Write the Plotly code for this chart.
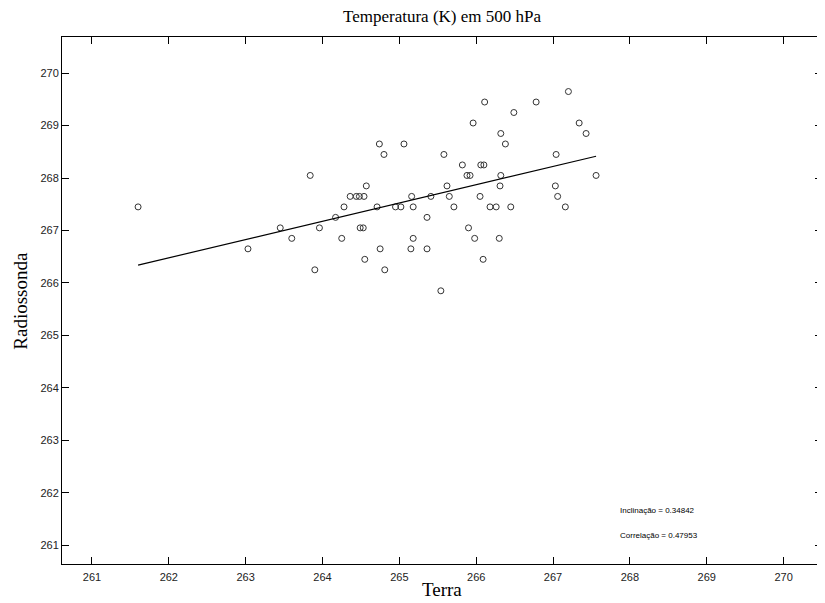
import numpy as np
import plotly.graph_objs as go

# temperatura (K) em 500 hPa: terra vs radiossonda
terra = [
    261.60, 263.03, 263.45, 263.60, 263.84, 263.90, 263.96, 264.17, 264.25, 264.28,
    264.36, 264.44, 264.48, 264.54, 264.49, 264.53, 264.55, 264.57, 264.71, 264.74,
    264.75, 264.80, 264.81, 264.95, 265.02, 265.06, 265.15, 265.16, 265.18, 265.18,
    265.36, 265.36, 265.41, 265.54, 265.58, 265.62, 265.65, 265.71, 265.82, 265.88,
    265.92, 265.90, 265.96, 265.98, 266.05, 266.06, 266.10, 266.09, 266.11, 266.18,
    266.26, 266.30, 266.31, 266.32, 266.32, 266.38, 266.45, 266.49, 266.78, 267.03,
    267.04, 267.06, 267.16, 267.20, 267.34, 267.43, 267.56,
]
radiossonda = [
    267.45, 266.65, 267.05, 266.85, 268.05, 266.25, 267.05, 267.25, 266.85, 267.45,
    267.65, 267.65, 267.65, 267.65, 267.05, 267.05, 266.45, 267.85, 267.45, 268.65,
    266.65, 268.45, 266.25, 267.45, 267.45, 268.65, 266.65, 267.65, 267.45, 266.85,
    267.25, 266.65, 267.65, 265.85, 268.45, 267.85, 267.65, 267.45, 268.25, 268.05,
    268.05, 267.05, 269.05, 266.85, 267.65, 268.25, 268.25, 266.45, 269.45, 267.45,
    267.45, 266.85, 267.85, 268.05, 268.85, 268.65, 267.45, 269.25, 269.45, 267.85,
    268.45, 267.65, 267.45, 269.65, 269.05, 268.85, 268.05,
]
inclinacao = 0.34842
correlacao = 0.47953
ticks = list(range(261, 271))

x = np.array(terra)
y = np.array(radiossonda)
intercept = y.mean() - inclinacao * x.mean()
xfit = np.array([x.min(), x.max()])
yfit = inclinacao * xfit + intercept

serif = "Liberation Serif, Times New Roman, serif"
sans = "Liberation Sans, Arial, sans-serif"

fig = go.Figure()
fig.add_trace(go.Scatter(
    x=terra, y=radiossonda, mode="markers",
    marker=dict(symbol="circle-open", size=6, color="#333333", line=dict(width=1)),
    showlegend=False
))
fig.add_trace(go.Scatter(
    x=xfit, y=yfit, mode="lines",
    line=dict(color="black", width=1.2),
    showlegend=False
))

fig.add_annotation(x=267.85, y=261.66, xanchor="left", showarrow=False,
                   text="Inclinação = %.5f" % inclinacao,
                   font=dict(family=sans, size=8, color="black"))
fig.add_annotation(x=267.85, y=261.18, xanchor="left", showarrow=False,
                   text="Correlação = %.5f" % correlacao,
                   font=dict(family=sans, size=8, color="black"))

# titulos como anotacoes para controlar a posicao
fig.add_annotation(xref="paper", yref="paper", x=0.5, y=1.038, showarrow=False,
                   xanchor="center", yanchor="middle",
                   text="Temperatura (K) em 500 hPa",
                   font=dict(family=serif, size=17, color="black"))
fig.add_annotation(xref="paper", yref="paper", x=0.5, y=-0.049, showarrow=False,
                   xanchor="center", yanchor="middle",
                   text="Terra", font=dict(family=serif, size=19, color="black"))
fig.add_annotation(xref="paper", yref="paper", x=-0.055, y=0.5, showarrow=False,
                   xanchor="center", yanchor="middle",
                   text="Radiossonda", textangle=-90,
                   font=dict(family=serif, size=19, color="black"))

axis_common = dict(
    showgrid=False, zeroline=False, showline=True, linecolor="black", linewidth=1,
    mirror="ticks", ticks="inside", ticklen=7, tickcolor="black", tickwidth=1,
    tickvals=ticks, tickfont=dict(family=sans, size=11, color="#222222"),
    automargin=False,
)

# a pagina tem 8px de margem no body
fig.update_layout(
    width=817, height=595,
    margin=dict(l=54, r=3, t=29, b=39),
    paper_bgcolor="white", plot_bgcolor="white",
    xaxis=dict(range=[260.61, 270.5], ticklabelstandoff=3, **axis_common),
    yaxis=dict(range=[260.64, 270.69], **axis_common),
)

fig.write_html("out.html")
